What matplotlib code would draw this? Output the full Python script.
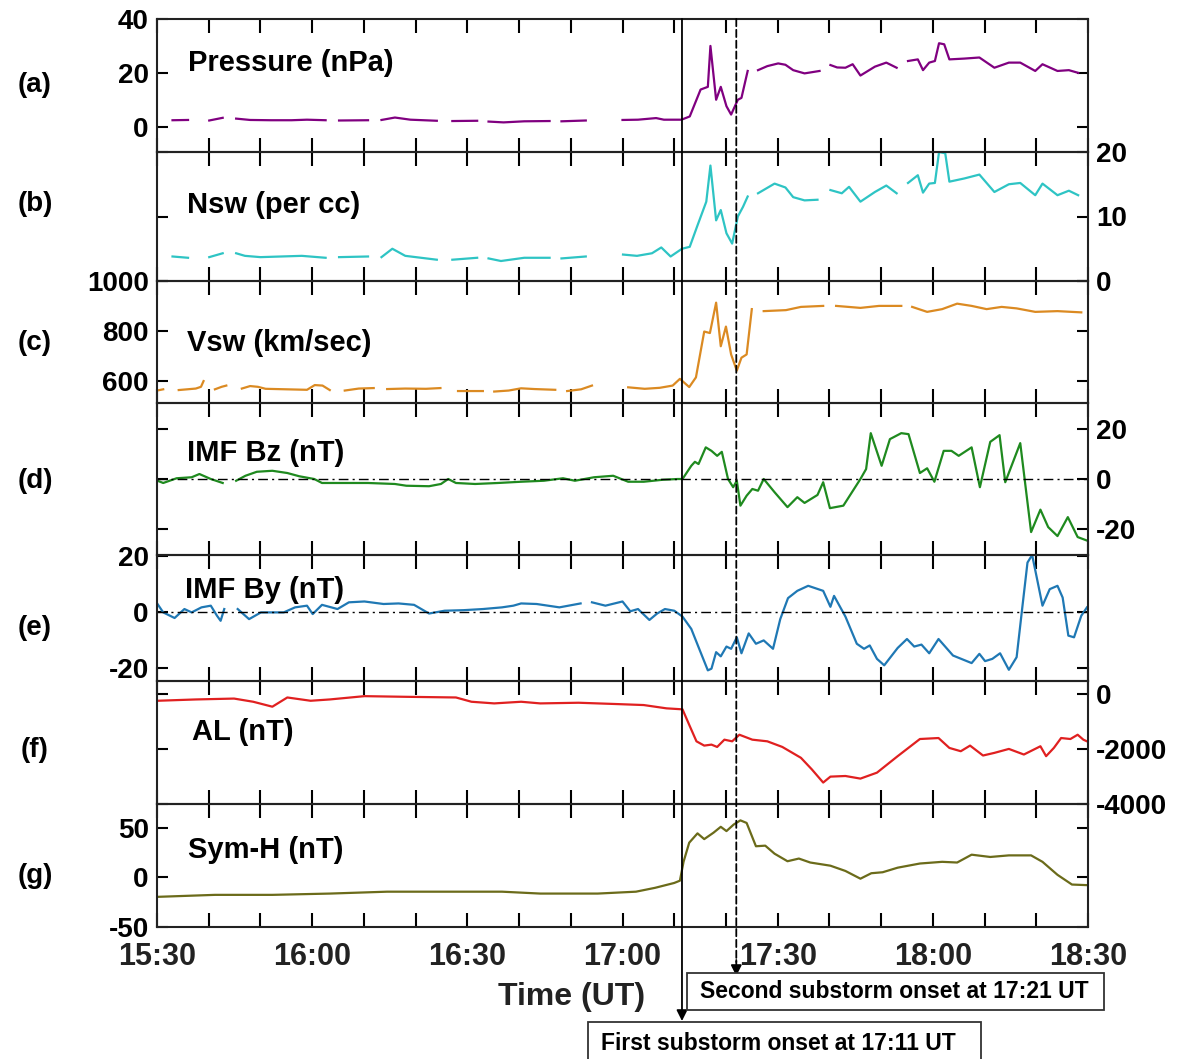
import numpy as np
import matplotlib
matplotlib.use('Agg')
import matplotlib.pyplot as plt
from matplotlib.patches import Rectangle

plt.rcParams['font.family'] = ['Liberation Sans', 'DejaVu Sans']
plt.rcParams['font.weight'] = 'bold'
plt.rcParams['axes.unicode_minus'] = False

nan = np.nan
# ---------------- data (time in minutes after 15:30 UT) ----------------
P_T = [3.0, 6.0, 6.1, 10.1, 12.7, 12.8, 15.3, 18, 22, 26, 29, 32.6, 32.7, 35.2, 40.8, 40.9,
       43.4, 46, 49, 54.1, 54.2, 57.1, 61.9, 62.0, 64.1, 67, 71, 75.9, 76.0, 78.2, 82.9, 83.0,
       90.0, 93, 96.5, 98, 101.4, 103, 105.1, 106.5, 107.0, 108.1, 109.0, 110.1, 111, 112.3, 113, 114.2, 114.3,
       116.2, 118, 120.1, 121.5, 123, 125.2, 128.1, 128.2,
       130.2, 131.5, 133.1, 134.5, 136, 138.8, 141, 143, 143.1,
       145.2, 147.1, 148.1, 149.3, 150.4, 151.2, 152.2, 153.2, 156.1, 159, 161.9, 164.7, 166.9,
       169.8, 171.2, 174.1, 176.3, 178.1]
P_V = [2.4, 2.5, nan, 2.3, 3.3, nan, 3.0, 2.5, 2.4, 2.4, 2.6, 2.4, nan, 2.3, 2.4, nan,
       2.5, 3.4, 2.6, 2.2, nan, 2.1, 2.2, nan, 1.9, 1.6, 2.0, 2.1, nan, 2.0, 2.3, nan,
       2.5, 2.6, 3.2, 2.6, 2.6, 3.8, 13.8, 14.8, 30.0, 10.0, 14.8, 7.6, 4.5, 10.0, 10.7, 20.7, nan,
       21.0, 22.5, 23.5, 23.0, 21.0, 19.8, 20.7, nan,
       22.9, 22.0, 21.9, 23.2, 19.0, 22.3, 23.8, 21.9, nan,
       24.4, 25.0, 21.0, 23.8, 24.4, 31.0, 30.6, 25.0, 25.3, 25.7, 21.9, 23.8, 23.8,
       20.7, 23.2, 20.7, 21.0, 20.0]

N_T = [3.0, 6.0, 6.1, 10.1, 12.7, 12.8, 15.3, 17, 20, 24, 28, 32.6, 32.7, 35.2, 40.8, 40.9,
       43.4, 45.5, 48, 54.1, 54.2, 57.1, 61.9, 62.0, 64.1, 66.5, 71, 75.9, 76.0, 78.2, 82.9, 83.0,
       90.1, 92.8, 95.7, 97.5, 99.3, 101.5, 103, 104.4, 106.2, 107, 108.1, 109, 110.1, 111.2, 112.3, 113.3, 114.2, 114.3,
       116.2, 119.4, 121.5, 123, 125.2, 127.7, 127.8,
       130.2, 132.4, 133.8, 136, 138.8, 141, 143, 143.1,
       145.2, 147.1, 148.1, 149.3, 150.4, 151.2, 152.4, 153.2, 156.1, 159, 161.9, 164.7, 166.9,
       169.8, 171.2, 174.1, 176.3, 178.1]
N_V = [3.8, 3.6, nan, 3.7, 4.3, nan, 4.3, 3.9, 3.7, 3.8, 3.9, 3.6, nan, 3.7, 3.8, nan,
       3.7, 5.0, 3.9, 3.3, nan, 3.3, 3.6, nan, 3.5, 3.1, 3.6, 3.6, nan, 3.5, 3.8, nan,
       4.1, 3.9, 4.3, 5.2, 3.8, 5.0, 5.3, 8.4, 12.3, 17.9, 9.4, 11.0, 7.4, 5.8, 10.0, 11.5, 13.1, nan,
       13.6, 15.1, 14.5, 13.0, 12.5, 12.6, nan,
       14.1, 13.6, 14.6, 12.3, 13.8, 14.8, 13.6, nan,
       15.2, 16.4, 13.7, 15.1, 15.2, 20.0, 19.8, 15.4, 15.9, 16.5, 13.8, 15.0, 15.2,
       13.3, 15.1, 13.3, 14.0, 13.3]

V_T = [0.0, 1.2, 1.3, 4.2, 7.5, 8.5, 9.0, 9.1, 11.2, 12.5, 13.4, 13.5,
       16.4, 18, 19.5, 21, 25, 29, 30.5, 32, 33.4, 33.5, 36.3, 39, 41.9, 42.0,
       44.5, 48, 52, 54.8, 54.9, 58.2, 63.0, 63.1, 65.2, 68, 70.4, 73, 77.0, 77.1,
       79.3, 82, 84.1, 84.2,
       91.1, 94.3, 97.2, 99.7, 101.1, 102.9, 104.2, 105.8, 106.9, 108.1, 109.0, 110.0, 111.0,
       112.1, 113.0, 114.0, 115.0, 115.1,
       117.3, 121.6, 124.5, 128.8, 128.9, 131.3, 136.0, 139.6, 143.9, 144.0,
       146.0, 148.9, 151.8, 154.7, 157.5, 160.4, 163.3, 166.2, 169.8, 174.1, 178.7]
V_V = [560, 565, nan, 562, 568, 575, 598, nan, 565, 575, 580, nan,
       568, 578, 575, 567, 565, 563, 582, 580, 562, nan, 560, 568, 570, nan,
       566, 568, 567, 570, nan, 558, 558, nan, 556, 560, 569, 566, 563, nan,
       558, 565, 580, nan,
       573, 567, 571, 580, 607, 574, 613, 797, 791, 913, 738, 817, 705,
       640, 692, 705, 887, nan,
       879, 883, 896, 900, nan, 900, 892, 900, 900, nan,
       896, 876, 887, 909, 900, 887, 896, 890, 876, 879, 874]

BZ_T = [0.1, 1.2, 3.8, 6.7, 8.2, 10.4, 12.7, 12.8, 15.3, 17.1, 19.3, 22.3, 25.2, 27.5, 30.4,
        31.9, 37.1, 40.8, 46.0, 48.2, 52.6, 54.9, 56.3, 57.8, 61.5, 65.9, 70.4, 74.8, 78.5,
        80.8, 84.5, 88.2, 91.1, 94.1, 97.8, 100.7, 101.6, 103.3, 104.0, 104.7, 106.1, 107.2,
        108.3, 109.2, 110.4, 111.4, 112.1, 112.8, 114.0, 115.1, 116.2, 117.3, 119.4, 121.9,
        123.8, 125.2, 127.7, 128.8, 130.1, 132.7, 136.0, 137.1, 138.0, 140.1, 141.7, 143.9,
        145.3, 147.5, 148.9, 150.3, 152.1, 153.6, 155.0, 157.5, 159.1, 161.1, 162.9, 164.0,
        166.9, 169.0, 170.8, 172.3, 174.1, 176.1, 178.0, 179.8]
BZ_V = [-0.7, -1.6, 0.3, 0.7, 2.0, 0.0, -1.6, nan, -0.7, 1.3, 2.9, 3.3, 2.4, 1.1, 0.0,
        -1.6, -1.6, -1.6, -2.0, -2.7, -2.9, -2.0, 0.0, -1.6, -2.0, -1.6, -1.1, -0.7, 0.3,
        -0.7, 0.7, 1.3, -1.1, -1.1, -0.3, 0.0, 0.0, 5.3, 6.9, 6.0, 12.7, 11.3,
        9.3, 10.9, 0.0, -3.3, -0.7, -10.7, -6.7, -4.0, -4.7, 0.0, -5.3, -11.3,
        -7.3, -9.6, -6.4, -1.3, -11.7, -10.7, 0.0, 4.0, 18.4, 5.3, 16.0, 18.4,
        18.0, 2.4, 4.3, -1.1, 11.3, 11.3, 9.3, 12.7, -3.3, 14.9, 17.6, -1.3,
        14.4, -21.3, -12.3, -19.3, -22.9, -15.3, -23.3, -24.7]

BY_T = [0.1, 1.2, 3.4, 5.3, 6.7, 8.6, 10.4, 11.6, 12.3, 13.0, 13.1, 15.6, 17.8, 20.1, 24.5,
        26.7, 29.0, 30.1, 31.9, 34.9, 37.1, 40.1, 43.8, 46.7, 49.7, 52.6, 55.6, 59.3, 63.0,
        66.7, 68.9, 70.4, 73.4, 77.8, 81.9, 82.0, 84.1, 86.7, 90.0, 91.5, 93.0, 95.2, 96.7,
        98.2, 100.0, 101.6, 103.3, 104.7, 106.5, 107.2, 108.1, 109.0, 110.1, 111.0, 112.1,
        113.0, 114.4, 115.8, 117.3, 119.1, 120.5, 122.0, 123.8, 125.9, 128.8, 130.2, 130.9,
        133.1, 135.3, 136.7, 137.8, 139.2, 140.6, 143.2, 145.0, 146.4, 147.8, 149.3, 151.1,
        153.9, 157.5, 159.0, 160.1, 161.5, 163.0, 164.7, 166.2, 167.3, 168.3, 169.2, 170.1,
        171.2, 172.6, 174.1, 175.1, 176.2, 177.3, 178.7, 179.8]
BY_V = [3.0, 0.0, -2.0, 1.2, 0.0, 1.8, 2.4, -1.2, -3.0, 1.2, nan, 1.2, -2.4, 0.0, 0.0,
        1.8, 2.4, -0.6, 2.7, 1.2, 3.6, 3.9, 3.0, 3.2, 2.7, -0.4, 0.6, 0.8, 1.2,
        1.8, 2.4, 3.2, 3.0, 1.8, 3.2, nan, 3.6, 2.4, 3.9, 0.4, 1.2, -2.7, -0.4,
        1.2, 0.6, -1.5, -5.9, -12.4, -20.7, -20.1, -14.2, -15.7, -12.2, -13.0, -8.9,
        -14.6, -7.5, -11.2, -10.0, -13.0, -2.4, 5.1, 7.7, 9.5, 7.7, 2.0, 5.9,
        -1.5, -11.2, -13.0, -11.8, -16.6, -18.9, -12.7, -9.5, -12.2, -11.5, -14.6, -9.5,
        -15.4, -18.1, -14.8, -17.4, -16.6, -14.6, -20.5, -16.0, 1.8, 17.8, 20.5, 12.4,
        2.4, 8.3, 9.5, 5.3, -8.3, -8.9, -1.2, 1.8]

AL_T = [0.1, 7.5, 14.9, 18.6, 22.3, 25.2, 29.7, 33.4, 40.1, 48.2, 57.8, 60.8, 65.2, 70.4,
        74.1, 81.5, 88.9, 94.1, 98.5, 101.6, 102.9, 104.3, 105.8, 107.2, 108.3, 109.7, 111.2,
        112.6, 115.1, 118.0, 120.9, 124.5, 126.6, 128.8, 130.2, 133.1, 136.0, 139.2, 143.2,
        147.5, 151.1, 153.2, 155.4, 157.2, 159.7, 161.9, 164.7, 167.6, 170.8, 171.9, 173.4,
        174.8, 176.6, 178.0, 179.1, 179.8]
AL_V = [-240, -192, -160, -276, -456, -120, -240, -192, -72, -96, -120, -276, -336, -276,
        -336, -312, -360, -396, -516, -552, -1117, -1717, -1873, -1837, -1922, -1657, -1717,
        -1477, -1657, -1717, -1922, -2318, -2738, -3219, -3003, -2980, -3075, -2858, -2258,
        -1633, -1597, -1958, -2078, -1873, -2234, -2138, -1994, -2198, -1897, -2258, -1957,
        -1597, -1633, -1477, -1657, -1717]

SH_T = [0.1, 11.2, 22.3, 33.4, 44.5, 55.6, 66.7, 74.1, 85.2, 92.6, 96.3, 100.0, 101.1, 101.8,
        102.9, 104.5, 105.8, 107.6, 109.0, 110.1, 111.5, 112.8, 114.0, 115.8, 117.6, 119.4,
        121.9, 124.1, 126.3, 130.2, 133.1, 136.0, 138.1, 140.3, 143.2, 147.5, 151.8, 154.7,
        157.5, 161.1, 164.7, 169.0, 171.2, 174.1, 176.9, 179.8]
SH_V = [-19.6, -17.6, -17.6, -16.3, -14.4, -14.4, -14.4, -16.3, -16.3, -14.4, -10.5, -5.6,
        -3.3, 15.7, 35.0, 44.4, 38.6, 45.1, 51.0, 46.7, 53.3, 57.5, 54.9, 31.4, 32.0, 23.9,
        16.3, 19.0, 15.0, 11.8, 6.5, -1.3, 4.2, 5.2, 9.8, 14.0, 15.7, 15.0, 22.9, 20.6,
        22.2, 22.2, 15.7, 2.6, -7.2, -7.8]

PANEL_LETTERS = ['(a)', '(b)', '(c)', '(d)', '(e)', '(f)', '(g)']
PANEL_NAMES = ['Pressure (nPa)', 'Nsw (per cc)', 'Vsw (km/sec)', 'IMF Bz (nT)',
               'IMF By (nT)', 'AL (nT)', 'Sym-H (nT)']
X_TICKS = list(range(0, 181, 10))
X_TICK_LABELS = ['15:30', '', '', '16:00', '', '', '16:30', '', '', '17:00', '', '',
                 '17:30', '', '', '18:00', '', '', '18:30']
ONSET1 = 101.5   # 17:11 UT
ONSET2 = 112.0   # 17:21 UT
ONSET1_TEXT = 'First substorm onset at 17:11 UT'
ONSET2_TEXT = 'Second substorm onset at 17:21 UT'

# ---------------- layout ----------------
W, H = 1183, 1059
fig = plt.figure(figsize=(W / 100, H / 100), dpi=100)
fx = lambda x: x / W
fy = lambda y: 1 - y / H

X0, X1 = 157, 1088
bounds = [19, 152, 281, 403, 555, 681, 804, 927]
series = [(P_T, P_V, '#800080'), (N_T, N_V, '#2EC4C4'), (V_T, V_V, '#DB8A22'),
          (BZ_T, BZ_V, '#1F8A1F'), (BY_T, BY_V, '#1F78B4'), (AL_T, AL_V, '#E02020'),
          (SH_T, SH_V, '#6B6B1A')]
ylims = [(-9.4, 40), (0, 20), (510, 1000), (-30.5, 30.5), (-24.5, 20.5), (-4000, 480), (-50, 74)]
yticks = [[0, 20, 40], [0, 10, 20], [600, 800, 1000], [-20, 0, 20], [-20, 0, 20],
          [-4000, -2000, 0], [-50, 0, 50]]
right_labels = [False, True, False, True, False, True, False]
name_pos = [(188, 63), (187, 205), (187, 343), (187, 453), (185, 590), (192, 732), (188, 850)]
letter_pos = [(35, 85), (35, 204), (35, 343), (35, 481), (35, 628), (35, 750), (35, 876)]

axes = []
for i in range(7):
    top, bot = bounds[i], bounds[i + 1]
    ax = fig.add_axes([fx(X0), fy(bot), (X1 - X0) / W, (bot - top) / H])
    t, v, c = series[i]
    ax.plot(t, v, color=c, lw=1.6)
    ax.set_xlim(0, 180)
    ax.set_ylim(*ylims[i])
    ax.set_yticks(yticks[i])
    ax.set_xticks(X_TICKS)
    if i == 6:
        ax.set_xticklabels(X_TICK_LABELS)
    else:
        ax.set_xticklabels([])
    ax.tick_params(axis='x', direction='in', top=True, bottom=True, length=10, width=1.5,
                   labelsize=22, pad=11, labelcolor='#222222')
    ax.tick_params(axis='y', direction='in', left=True, right=True, length=8, width=1.5,
                   labelsize=20, labelleft=not right_labels[i], labelright=right_labels[i],
                   pad=6)
    for s in ax.spines.values():
        s.set_linewidth(1.5)
        s.set_color('#222222')
    if i in (3, 4):
        ax.axhline(0, color='k', lw=1.0, dashes=(7, 3, 1.5, 3))
    ax.patch.set_alpha(0)
    fig.text(fx(name_pos[i][0]), fy(name_pos[i][1]), PANEL_NAMES[i], fontsize=21,
             fontweight='bold', ha='left', va='center')
    fig.text(fx(letter_pos[i][0]), fy(letter_pos[i][1]), PANEL_LETTERS[i], fontsize=20,
             fontweight='bold', ha='center', va='center')
    axes.append(ax)

fig.text(fx(572), fy(997), 'Time (UT)', fontsize=23, fontweight='bold', ha='center',
         va='center', color='#222222')

# ---------------- onset lines, arrows and boxes ----------------
axg = axes[6]
axg.annotate('', xy=(ONSET1, fy(1021)), xycoords=('data', 'figure fraction'),
             xytext=(ONSET1, fy(19)), textcoords=('data', 'figure fraction'),
             arrowprops=dict(arrowstyle='-|>', color='k', lw=1.3, mutation_scale=16,
                             shrinkA=0, shrinkB=0), annotation_clip=False)
axg.annotate('', xy=(ONSET2, fy(962)), xycoords=('data', 'figure fraction'),
             xytext=(ONSET2, fy(19)), textcoords=('data', 'figure fraction'),
             arrowprops=dict(arrowstyle='-', color='k', lw=1.3, linestyle=(0, (4, 2)),
                             shrinkA=0, shrinkB=0), annotation_clip=False)
axg.annotate('', xy=(ONSET2, fy(976)), xycoords=('data', 'figure fraction'),
             xytext=(ONSET2, fy(960)), textcoords=('data', 'figure fraction'),
             arrowprops=dict(arrowstyle='-|>', color='k', lw=1.3, mutation_scale=16,
                             shrinkA=0, shrinkB=0), annotation_clip=False)

fig.add_artist(Rectangle((fx(687), fy(1010)), (1104 - 687) / W, (1010 - 973) / H,
                         transform=fig.transFigure, facecolor='white', edgecolor='#333333',
                         lw=1.3, zorder=5))
fig.text(fx(894), fy(992), ONSET2_TEXT, fontsize=16.5, fontweight='bold', ha='center',
         va='center', zorder=6)
fig.add_artist(Rectangle((fx(588), fy(1070)), (981 - 588) / W, (1070 - 1022) / H,
                         transform=fig.transFigure, facecolor='white', edgecolor='#333333',
                         lw=1.3, zorder=5))
fig.text(fx(778), fy(1043), ONSET1_TEXT, fontsize=16.5, fontweight='bold', ha='center',
         va='center', zorder=6)

fig.savefig('out.png', dpi=100)
